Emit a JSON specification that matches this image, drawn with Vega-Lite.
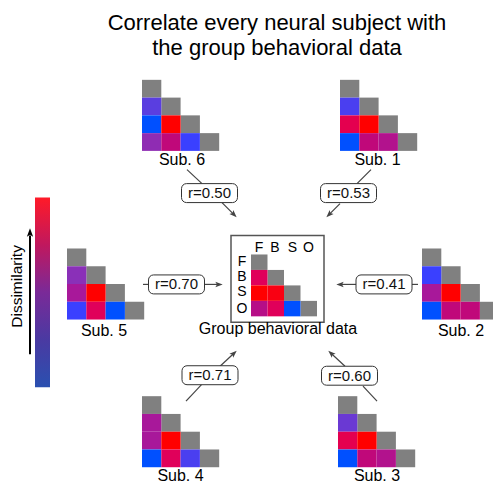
{
  "$schema": "https://vega.github.io/schema/vega-lite/v6.json",
  "width": 493,
  "height": 484,
  "autosize": {"type": "fit", "contains": "padding"},
  "padding": 0,
  "background": "white",
  "config": {"view": {"stroke": null}, "font": "Liberation Sans"},
  "datasets": {
    "mats": [
      {"m": "S6", "x0": 142, "y0": 80, "w": 19.3, "h": 17.8},
      {"m": "S1", "x0": 340, "y0": 80, "w": 19.3, "h": 17.8},
      {"m": "S5", "x0": 67, "y0": 249, "w": 19.3, "h": 17.8},
      {"m": "S2", "x0": 422, "y0": 249, "w": 19.3, "h": 17.8},
      {"m": "S4", "x0": 142, "y0": 397, "w": 19.3, "h": 17.8},
      {"m": "S3", "x0": 338, "y0": 397, "w": 19.3, "h": 17.8},
      {"m": "G", "x0": 251, "y0": 255, "w": 16.5, "h": 15.5}
    ],
    "cells": [
      {"m": "S6", "r": 0, "c": 0}, {"m": "S6", "r": 1, "c": 1}, {"m": "S6", "r": 2, "c": 2}, {"m": "S6", "r": 3, "c": 3},
      {"m": "S6", "r": 1, "c": 0, "v": 0.25}, {"m": "S6", "r": 2, "c": 0, "v": 0}, {"m": "S6", "r": 2, "c": 1, "v": 1},
      {"m": "S6", "r": 3, "c": 0, "v": 0.42}, {"m": "S6", "r": 3, "c": 1, "v": 0.62}, {"m": "S6", "r": 3, "c": 2, "v": 0.15},
      {"m": "S1", "r": 0, "c": 0}, {"m": "S1", "r": 1, "c": 1}, {"m": "S1", "r": 2, "c": 2}, {"m": "S1", "r": 3, "c": 3},
      {"m": "S1", "r": 1, "c": 0, "v": 0.2}, {"m": "S1", "r": 2, "c": 0, "v": 0.78}, {"m": "S1", "r": 2, "c": 1, "v": 1},
      {"m": "S1", "r": 3, "c": 0, "v": 0}, {"m": "S1", "r": 3, "c": 1, "v": 0.62}, {"m": "S1", "r": 3, "c": 2, "v": 0.56},
      {"m": "S5", "r": 0, "c": 0}, {"m": "S5", "r": 1, "c": 1}, {"m": "S5", "r": 2, "c": 2}, {"m": "S5", "r": 3, "c": 3},
      {"m": "S5", "r": 1, "c": 0, "v": 0.4}, {"m": "S5", "r": 2, "c": 0, "v": 0.52}, {"m": "S5", "r": 2, "c": 1, "v": 1},
      {"m": "S5", "r": 3, "c": 0, "v": 0.15}, {"m": "S5", "r": 3, "c": 1, "v": 0.75}, {"m": "S5", "r": 3, "c": 2, "v": 0},
      {"m": "S2", "r": 0, "c": 0}, {"m": "S2", "r": 1, "c": 1}, {"m": "S2", "r": 2, "c": 2}, {"m": "S2", "r": 3, "c": 3},
      {"m": "S2", "r": 1, "c": 0, "v": 0.15}, {"m": "S2", "r": 2, "c": 0, "v": 0.52}, {"m": "S2", "r": 2, "c": 1, "v": 1},
      {"m": "S2", "r": 3, "c": 0, "v": 0}, {"m": "S2", "r": 3, "c": 1, "v": 0.62}, {"m": "S2", "r": 3, "c": 2, "v": 0.62},
      {"m": "S4", "r": 0, "c": 0}, {"m": "S4", "r": 1, "c": 1}, {"m": "S4", "r": 2, "c": 2}, {"m": "S4", "r": 3, "c": 3},
      {"m": "S4", "r": 1, "c": 0, "v": 0.52}, {"m": "S4", "r": 2, "c": 0, "v": 0.52}, {"m": "S4", "r": 2, "c": 1, "v": 1},
      {"m": "S4", "r": 3, "c": 0, "v": 0}, {"m": "S4", "r": 3, "c": 1, "v": 0.75}, {"m": "S4", "r": 3, "c": 2, "v": 0.2},
      {"m": "S3", "r": 0, "c": 0}, {"m": "S3", "r": 1, "c": 1}, {"m": "S3", "r": 2, "c": 2}, {"m": "S3", "r": 3, "c": 3},
      {"m": "S3", "r": 1, "c": 0, "v": 0.3}, {"m": "S3", "r": 2, "c": 0, "v": 0.78}, {"m": "S3", "r": 2, "c": 1, "v": 1},
      {"m": "S3", "r": 3, "c": 0, "v": 0}, {"m": "S3", "r": 3, "c": 1, "v": 0.62}, {"m": "S3", "r": 3, "c": 2, "v": 0.56},
      {"m": "G", "r": 0, "c": 0}, {"m": "G", "r": 1, "c": 1}, {"m": "G", "r": 2, "c": 2}, {"m": "G", "r": 3, "c": 3},
      {"m": "G", "r": 1, "c": 0, "v": 0.75}, {"m": "G", "r": 2, "c": 0, "v": 1}, {"m": "G", "r": 2, "c": 1, "v": 0.95},
      {"m": "G", "r": 3, "c": 0, "v": 0.58}, {"m": "G", "r": 3, "c": 1, "v": 0.75}, {"m": "G", "r": 3, "c": 2, "v": 0}
    ],
    "shapes": [
      {"id": "colorbar", "x": 35, "x2": 50, "y": 198, "y2": 388},
      {"id": "frame", "x": 231, "x2": 324, "y": 236, "y2": 323}
    ],
    "segments": [
      {"x": 187, "y": 170, "x2": 202, "y2": 184},
      {"x": 222, "y": 203, "x2": 234, "y2": 215},
      {"x": 371, "y": 170, "x2": 357, "y2": 184},
      {"x": 340, "y": 204, "x2": 329, "y2": 215},
      {"x": 143, "y": 285, "x2": 148, "y2": 285},
      {"x": 204, "y": 285, "x2": 219, "y2": 285},
      {"x": 412, "y": 285, "x2": 418, "y2": 285},
      {"x": 356, "y": 285, "x2": 340, "y2": 285},
      {"x": 186, "y": 402, "x2": 202, "y2": 385},
      {"x": 220, "y": 367, "x2": 234, "y2": 354},
      {"x": 345, "y": 367, "x2": 331, "y2": 354},
      {"x": 363, "y": 387, "x2": 377, "y2": 402}
    ],
    "heads": [
      {"x": 234, "y": 215, "a": 45},
      {"x": 329, "y": 215, "a": 135},
      {"x": 219, "y": 285, "a": 0},
      {"x": 340, "y": 285, "a": 180},
      {"x": 234, "y": 354, "a": 317},
      {"x": 331, "y": 354, "a": 223}
    ],
    "boxes": [
      {"t": "r=0.50", "x": 209.5, "y": 193.5},
      {"t": "r=0.53", "x": 348.5, "y": 193.5},
      {"t": "r=0.70", "x": 176.5, "y": 285},
      {"t": "r=0.41", "x": 384, "y": 285},
      {"t": "r=0.71", "x": 210, "y": 376},
      {"t": "r=0.60", "x": 349.5, "y": 376.5}
    ],
    "title": [
      {"t": "Correlate every neural subject with", "x": 277, "y": 30},
      {"t": "the group behavioral data", "x": 277, "y": 55}
    ],
    "sublabels": [
      {"t": "Sub. 6", "x": 182, "y": 165},
      {"t": "Sub. 1", "x": 377.5, "y": 165},
      {"t": "Sub. 5", "x": 104, "y": 337},
      {"t": "Sub. 2", "x": 461, "y": 337},
      {"t": "Sub. 4", "x": 180.5, "y": 482},
      {"t": "Sub. 3", "x": 377, "y": 482}
    ],
    "letters": [
      {"t": "F", "x": 259, "y": 249}, {"t": "B", "x": 275, "y": 249}, {"t": "S", "x": 292.5, "y": 249}, {"t": "O", "x": 308.5, "y": 249},
      {"t": "F", "x": 242, "y": 263}, {"t": "B", "x": 242, "y": 278}, {"t": "S", "x": 242, "y": 293}, {"t": "O", "x": 242, "y": 309.5}
    ],
    "misc": [
      {"t": "Group behavioral data", "x": 278, "y": 335}
    ],
    "axislabel": [
      {"t": "Dissimilarity", "x": 17, "y": 287}
    ],
    "bigarrow": [
      {"x": 30, "y": 355, "x2": 30, "y2": 236}
    ],
    "bighead": [
      {"x": 30, "y": 233, "a": 270}
    ]
  },
  "layer": [
    {
      "data": {"name": "shapes"},
      "transform": [{"filter": "datum.id == 'colorbar'"}],
      "mark": {
        "type": "rect",
        "color": {
          "gradient": "linear", "x1": 0, "y1": 1, "x2": 0, "y2": 0,
          "stops": [
            {"offset": 0, "color": "#2a50b0"},
            {"offset": 0.25, "color": "#4a3aa2"},
            {"offset": 0.5, "color": "#7a2a98"},
            {"offset": 0.75, "color": "#c0185e"},
            {"offset": 1, "color": "#ff1a28"}
          ]
        }
      },
      "encoding": {
        "x": {"field": "x", "type": "quantitative", "scale": {"domain": [0, 493], "nice": false, "zero": false}, "axis": null},
        "x2": {"field": "x2"},
        "y": {"field": "y", "type": "quantitative", "scale": {"domain": [0, 484], "nice": false, "zero": false, "reverse": true}, "axis": null},
        "y2": {"field": "y2"}
      }
    },
    {
      "data": {"name": "shapes"},
      "transform": [{"filter": "datum.id == 'frame'"}],
      "mark": {"type": "rect", "fill": null, "fillOpacity": 0, "stroke": "#555555", "strokeWidth": 1.5},
      "encoding": {
        "x": {"field": "x", "type": "quantitative"},
        "x2": {"field": "x2"},
        "y": {"field": "y", "type": "quantitative"},
        "y2": {"field": "y2"}
      }
    },
    {
      "data": {"name": "cells"},
      "transform": [
        {"filter": "datum.r == datum.c"},
        {"lookup": "m", "from": {"data": {"name": "mats"}, "key": "m", "fields": ["x0", "y0", "w", "h"]}},
        {"calculate": "datum.x0 + datum.c * datum.w", "as": "xa"},
        {"calculate": "datum.xa + datum.w", "as": "xb"},
        {"calculate": "datum.y0 + datum.r * datum.h", "as": "ya"},
        {"calculate": "datum.ya + datum.h", "as": "yb"}
      ],
      "mark": {"type": "rect", "color": "#808080", "clip": true},
      "encoding": {
        "x": {"field": "xa", "type": "quantitative"},
        "x2": {"field": "xb"},
        "y": {"field": "ya", "type": "quantitative"},
        "y2": {"field": "yb"}
      }
    },
    {
      "data": {"name": "cells"},
      "transform": [
        {"filter": "datum.r > datum.c"},
        {"lookup": "m", "from": {"data": {"name": "mats"}, "key": "m", "fields": ["x0", "y0", "w", "h"]}},
        {"calculate": "datum.x0 + datum.c * datum.w", "as": "xa"},
        {"calculate": "datum.xa + datum.w", "as": "xb"},
        {"calculate": "datum.y0 + datum.r * datum.h", "as": "ya"},
        {"calculate": "datum.ya + datum.h", "as": "yb"}
      ],
      "mark": {"type": "rect", "clip": true},
      "encoding": {
        "x": {"field": "xa", "type": "quantitative"},
        "x2": {"field": "xb"},
        "y": {"field": "ya", "type": "quantitative"},
        "y2": {"field": "yb"},
        "color": {
          "field": "v", "type": "quantitative", "legend": null,
          "scale": {
            "domain": [0, 0.15, 0.25, 0.4, 0.52, 0.62, 0.75, 1],
            "range": ["#0050ff", "#3a40ff", "#5a3ee0", "#8a30b8", "#a8189a", "#c0087a", "#e0005a", "#ff0000"],
            "interpolate": "rgb"
          }
        }
      }
    },
    {
      "data": {"name": "segments"},
      "mark": {"type": "rule", "color": "#444444", "strokeWidth": 1.2},
      "encoding": {
        "x": {"field": "x", "type": "quantitative"},
        "x2": {"field": "x2"},
        "y": {"field": "y", "type": "quantitative"},
        "y2": {"field": "y2"}
      }
    },
    {
      "data": {"name": "heads"},
      "mark": {"type": "point", "shape": "M1,0L-1,-0.75L-0.55,0L-1,0.75Z", "filled": true, "color": "#444444", "size": 55, "opacity": 1},
      "encoding": {
        "x": {"field": "x", "type": "quantitative"},
        "y": {"field": "y", "type": "quantitative"},
        "angle": {"field": "a", "type": "quantitative", "scale": null}
      }
    },
    {
      "data": {"name": "bigarrow"},
      "mark": {"type": "rule", "color": "#000000", "strokeWidth": 2},
      "encoding": {
        "x": {"field": "x", "type": "quantitative"},
        "x2": {"field": "x2"},
        "y": {"field": "y", "type": "quantitative"},
        "y2": {"field": "y2"}
      }
    },
    {
      "data": {"name": "bighead"},
      "mark": {"type": "point", "shape": "M1,0L-1,-0.75L-0.55,0L-1,0.75Z", "filled": true, "color": "#000000", "size": 70, "opacity": 1},
      "encoding": {
        "x": {"field": "x", "type": "quantitative"},
        "y": {"field": "y", "type": "quantitative"},
        "angle": {"field": "a", "type": "quantitative", "scale": null}
      }
    },
    {
      "data": {"name": "boxes"},
      "transform": [
        {"calculate": "datum.x - 28", "as": "xa"},
        {"calculate": "datum.x + 28", "as": "xb"},
        {"calculate": "datum.y - 9.5", "as": "ya"},
        {"calculate": "datum.y + 9.5", "as": "yb"}
      ],
      "mark": {"type": "rect", "fill": "white", "stroke": "#333333", "strokeWidth": 1, "cornerRadius": 5},
      "encoding": {
        "x": {"field": "xa", "type": "quantitative"},
        "x2": {"field": "xb"},
        "y": {"field": "ya", "type": "quantitative"},
        "y2": {"field": "yb"}
      }
    },
    {
      "data": {"name": "boxes"},
      "mark": {"type": "text", "fontSize": 15, "align": "center", "baseline": "middle", "color": "#111111"},
      "encoding": {
        "x": {"field": "x", "type": "quantitative"},
        "y": {"field": "y", "type": "quantitative"},
        "text": {"field": "t"}
      }
    },
    {
      "data": {"name": "title"},
      "mark": {"type": "text", "fontSize": 22, "align": "center", "baseline": "alphabetic", "color": "#000000"},
      "encoding": {
        "x": {"field": "x", "type": "quantitative"},
        "y": {"field": "y", "type": "quantitative"},
        "text": {"field": "t"}
      }
    },
    {
      "data": {"name": "sublabels"},
      "mark": {"type": "text", "fontSize": 16, "align": "center", "baseline": "alphabetic", "color": "#000000"},
      "encoding": {
        "x": {"field": "x", "type": "quantitative"},
        "y": {"field": "y", "type": "quantitative"},
        "text": {"field": "t"}
      }
    },
    {
      "data": {"name": "letters"},
      "mark": {"type": "text", "fontSize": 14, "align": "center", "baseline": "middle", "color": "#000000"},
      "encoding": {
        "x": {"field": "x", "type": "quantitative"},
        "y": {"field": "y", "type": "quantitative"},
        "text": {"field": "t"}
      }
    },
    {
      "data": {"name": "misc"},
      "mark": {"type": "text", "fontSize": 16, "align": "center", "baseline": "alphabetic", "color": "#000000"},
      "encoding": {
        "x": {"field": "x", "type": "quantitative"},
        "y": {"field": "y", "type": "quantitative"},
        "text": {"field": "t"}
      }
    },
    {
      "data": {"name": "axislabel"},
      "mark": {"type": "text", "fontSize": 15.5, "align": "center", "baseline": "middle", "angle": 270, "color": "#000000"},
      "encoding": {
        "x": {"field": "x", "type": "quantitative"},
        "y": {"field": "y", "type": "quantitative"},
        "text": {"field": "t"}
      }
    }
  ]
}
